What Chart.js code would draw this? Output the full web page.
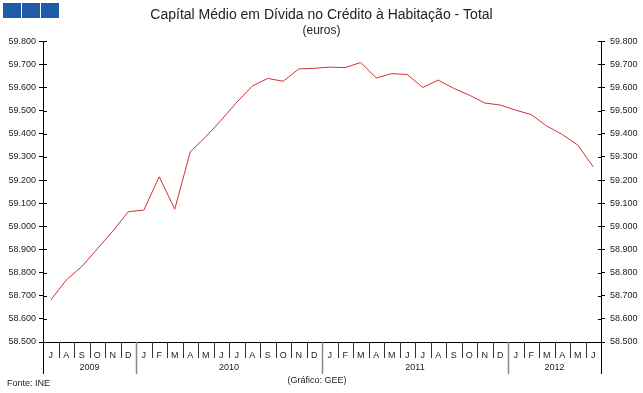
<!DOCTYPE html>
<html>
<head>
<meta charset="utf-8">
<script src="https://cdn.jsdelivr.net/npm/chart.js@4/dist/chart.umd.min.js"></script>
<style>
  html, body { margin: 0; padding: 0; background: #fff; }
  #wrap { width: 643px; height: 393px; }
</style>
</head>
<body>
<div id="wrap"><canvas id="chart" width="643" height="393"></canvas></div>
<script>
// month labels Jul 2009 .. Jun 2012
const months = ['J','A','S','O','N','D',
  'J','F','M','A','M','J','J','A','S','O','N','D',
  'J','F','M','A','M','J','J','A','S','O','N','D',
  'J','F','M','A','M','J'];
const yearLabels = ['2009', '2010', '2011', '2012'];
const yearSpans = [6, 12, 12, 6];

// capital médio em dívida (euros)
const capital = [
  58681, 58768, 58826, 58902, 58979, 59063,
  59070, 59214, 59074, 59322, 59387, 59459, 59536, 59606, 59639, 59627, 59680, 59683,
  59688, 59686, 59708, 59641, 59660, 59656, 59600, 59632, 59596, 59567, 59533, 59524,
  59502, 59483, 59433, 59397, 59351, 59257
];

const yMin = 58500, yMax = 59800, yStep = 100;

Chart.defaults.font.family = '"Liberation Sans", Arial, sans-serif';
Chart.defaults.color = '#222';

const fmt = v => Math.floor(v / 1000) + '.' + String(v % 1000).padStart(3, '0');

const extras = {
  id: 'extras',
  afterDraw(chart) {
    const ctx = chart.ctx;
    const xs = chart.scales.x;
    const area = chart.chartArea;
    ctx.save();

    // blue squares
    ctx.fillStyle = '#1f5ba6';
    [3, 22, 41].forEach(x => ctx.fillRect(x, 3, 18, 15));

    // axis lines going down past the month row
    ctx.strokeStyle = '#000';
    ctx.lineWidth = 1;
    ctx.beginPath();
    ctx.moveTo(area.left + 0.5, area.bottom);
    ctx.lineTo(area.left + 0.5, area.bottom + 32);
    ctx.moveTo(area.right + 0.5, area.bottom);
    ctx.lineTo(area.right + 0.5, area.bottom + 32);
    ctx.stroke();

    // y tick marks inside the axes
    const ys = chart.scales.y;
    ctx.beginPath();
    ys.ticks.forEach(t => {
      const y = Math.round(ys.getPixelForValue(t.value)) + 0.5;
      ctx.moveTo(area.left, y); ctx.lineTo(area.left + 4, y);
      ctx.moveTo(area.right - 3, y); ctx.lineTo(area.right + 1, y);
    });
    ctx.stroke();

    // month / year separators
    const ends = [];
    let acc = 0;
    yearSpans.forEach(n => { acc += n; ends.push(acc); });
    for (let i = 1; i < months.length; i++) {
      const x = Math.round((xs.getPixelForValue(i - 1) + xs.getPixelForValue(i)) / 2) + 0.5;
      ctx.beginPath();
      if (ends.includes(i)) {
        ctx.strokeStyle = '#888';
        ctx.lineWidth = 1.5;
        ctx.moveTo(x, area.bottom);
        ctx.lineTo(x, area.bottom + 32);
      } else {
        ctx.strokeStyle = '#333';
        ctx.lineWidth = 1;
        ctx.moveTo(x, area.bottom);
        ctx.lineTo(x, area.bottom + 16);
      }
      ctx.stroke();
    }

    // year labels
    ctx.fillStyle = '#222';
    ctx.font = '9px "Liberation Sans", Arial, sans-serif';
    ctx.textAlign = 'center';
    ctx.textBaseline = 'middle';
    let start = 0;
    yearSpans.forEach((n, k) => {
      const x = (xs.getPixelForValue(start) + xs.getPixelForValue(start + n - 1)) / 2;
      ctx.fillText(yearLabels[k], x, area.bottom + 26);
      start += n;
    });

    // source notes
    ctx.textAlign = 'left';
    ctx.fillText('Fonte: INE', 7, 384);
    ctx.textAlign = 'center';
    ctx.fillText('(Gráfico: GEE)', 317, 381);
    ctx.restore();
  }
};

const yTicks = {
  stepSize: yStep,
  callback: v => fmt(v),
  font: { size: 9 },
  color: '#222'
};

new Chart(document.getElementById('chart'), {
  type: 'line',
  data: {
    labels: months,
    datasets: [{
      data: capital,
      borderColor: '#cc3333',
      borderWidth: 1,
      pointRadius: 0,
      tension: 0,
      fill: false
    }]
  },
  options: {
    responsive: false,
    animation: false,
    layout: { padding: 0 },
    plugins: {
      legend: { display: false },
      tooltip: { enabled: false },
      title: {
        display: true,
        text: 'Capítal Médio em Dívida no Crédito à Habitação - Total',
        font: { size: 14, weight: 'normal' },
        color: '#222',
        padding: { top: 7, bottom: 0 }
      },
      subtitle: {
        display: true,
        text: '(euros)',
        font: { size: 12, weight: 'normal' },
        color: '#222',
        padding: { top: 0, bottom: 3 }
      }
    },
    scales: {
      x: {
        offset: true,
        grid: { display: false, drawTicks: false },
        border: { color: '#000' },
        ticks: { autoSkip: false, maxRotation: 0, font: { size: 9 }, color: '#222', padding: 8 },
        afterFit: s => { s.height = 51; }
      },
      y: {
        position: 'left',
        min: yMin,
        max: yMax,
        ticks: Object.assign({ padding: 3 }, yTicks),
        grid: { drawOnChartArea: false, tickLength: 4, color: '#000' },
        border: { color: '#000' },
        afterFit: s => { s.width = 43; }
      },
      y1: {
        position: 'right',
        min: yMin,
        max: yMax,
        ticks: Object.assign({ padding: 5 }, yTicks),
        grid: { drawOnChartArea: false, tickLength: 4, color: '#000' },
        border: { color: '#000' },
        afterFit: s => { s.width = 42; }
      }
    }
  },
  plugins: [extras]
});
</script>
</body>
</html>
